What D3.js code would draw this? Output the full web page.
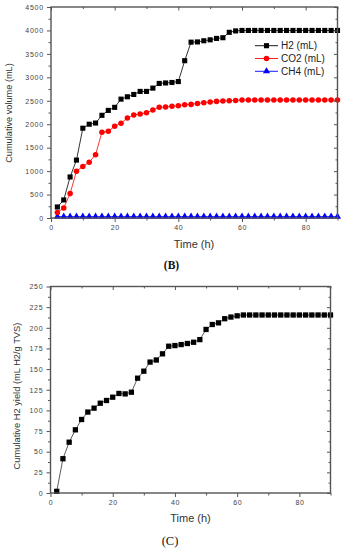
<!DOCTYPE html>
<html>
<head>
<meta charset="utf-8">
<script src="https://cdn.jsdelivr.net/npm/d3@7"></script>
<style>
  body { margin: 0; background: #fff; }
  svg text { font-family: "Liberation Sans", Arial, sans-serif; }
</style>
</head>
<body>
<div id="chart"></div>
<script>
// sampling times (h)
var times = [2,4,6,8,10,12,14,16,18,20,22,24,26,28,30,32,34,36,38,40,42,44,46,48,50,
             52,54,56,58,60,62,64,66,68,70,72,74,76,78,80,82,84,86,88,90];

// panel B: cumulative volume (mL)
var h2 = [235,385,875,1235,1915,2000,2025,2190,2295,2360,2535,2585,2635,2700,2700,2770,2870,2880,2890,2910,
          3355,3750,3755,3780,3800,3830,3845,3960,3990,4000,4000,4000,4000,4000,4000,4000,4000,4000,4000,4000,
          4000,4000,4000,4000,4000];
var co2 = [115,214,520,995,1100,1190,1350,1830,1850,1957,2020,2133,2197,2218,2246,2303,2360,2367,2381,2395,
           2416,2423,2444,2459,2473,2487,2494,2500,2508,2515,2515,2515,2515,2515,2515,2515,2515,2515,2515,2515,
           2515,2515,2515,2515,2515];
var ch4 = [30,30,30,30,30,30,30,30,30,30,30,30,30,30,30,30,30,30,30,30,30,30,30,30,30,
           30,30,30,30,30,30,30,30,30,30,30,30,30,30,30,30,30,30,30,30];

// panel C: cumulative H2 yield (mL H2/g TVS)
var yieldH2 = [2,41.5,61.5,76.5,89,98,102.7,108.7,112,116,120.5,120,122,139,147.5,158.5,161,168.5,177.7,178.5,
               179.7,181,182.5,185.7,198,204,206,211,213,214.5,215.5,215.5,215.5,215.5,215.5,215.5,215.5,215.5,
               215.5,215.5,215.5,215.5,215.5,215.5,215.5];

var xTicks = [0,20,40,60,80];
var xMinor = [10,30,50,70,90];
var volTicks = [0,500,1000,1500,2000,2500,3000,3500,4000,4500];
var yieldTicks = [0,25,50,75,100,125,150,175,200,225,250];

var series = [
  {name: "H2 (mL)", values: h2, color: "#000", symbol: d3.symbolSquare, size: 26},
  {name: "CO2 (mL)", values: co2, color: "#f00", symbol: d3.symbolCircle, size: 24},
  {name: "CH4 (mL)", values: ch4, color: "#00f", symbol: d3.symbolTriangle, size: 22}
];

var W = 343, H = 550;
var axisColor = "#555", labelColor = "#444";

var svg = d3.select("#chart").append("svg")
  .attr("width", W).attr("height", H);

function drawFrame(g, x, y, yMajor, yMinor, yFmt) {
  var x0 = x.range()[0], x1 = x.range()[1], y0 = y.range()[0], y1 = y.range()[1];

  // minor ticks first
  g.append("g").attr("transform", "translate(0," + y0 + ")")
    .call(d3.axisBottom(x).tickValues(xMinor).tickSize(2.5).tickFormat(""));
  g.append("g").attr("transform", "translate(" + x0 + ",0)")
    .call(d3.axisLeft(y).tickValues(yMinor).tickSize(2.5).tickFormat(""));
  g.append("g").attr("transform", "translate(0," + y1 + ")")
    .call(d3.axisBottom(x).tickValues(xMinor).tickSize(2).tickFormat(""));
  g.append("g").attr("transform", "translate(" + x1 + ",0)")
    .call(d3.axisLeft(y).tickValues(yMinor).tickSize(2).tickFormat(""));

  // major: bottom, left labelled, top/right mirrored inward
  var bx = g.append("g").attr("transform", "translate(0," + y0 + ")")
    .call(d3.axisBottom(x).tickValues(xTicks).tickSize(4).tickPadding(3));
  bx.selectAll("text").attr("font-size", 7).attr("letter-spacing", 0.6);

  var ly = g.append("g").attr("transform", "translate(" + x0 + ",0)")
    .call(d3.axisLeft(y).tickValues(yMajor).tickSize(4).tickPadding(3).tickFormat(yFmt));
  ly.selectAll("text").attr("font-size", 7).attr("letter-spacing", 0.8);

  g.append("g").attr("transform", "translate(0," + y1 + ")")
    .call(d3.axisBottom(x).tickValues(xTicks).tickSize(3.5).tickFormat(""));
  g.append("g").attr("transform", "translate(" + x1 + ",0)")
    .call(d3.axisLeft(y).tickValues(yMajor).tickSize(3.5).tickFormat(""));

  g.selectAll(".domain").remove();
  g.selectAll(".tick line").attr("stroke", axisColor).attr("stroke-width", 1);
  g.selectAll(".tick text").attr("fill", labelColor);

  g.append("rect")
    .attr("x", x0).attr("y", y1)
    .attr("width", x1 - x0).attr("height", y0 - y1)
    .attr("fill", "none").attr("stroke", axisColor).attr("stroke-width", 1.4);
}

// ---------- panel B ----------
var xB = d3.scaleLinear().domain([0, 90]).range([51, 337.5]);
var yB = d3.scaleLinear().domain([0, 4500]).range([218, 7]);
var gB = svg.append("g");

series.slice().reverse().forEach(function(s) {
  var pts = times.map(function(t, i) { return [t, s.values[i]]; });
  gB.append("path")
    .datum(pts)
    .attr("fill", "none")
    .attr("stroke", s.color)
    .attr("stroke-width", 0.8)
    .attr("d", d3.line().x(function(d){ return xB(d[0]); }).y(function(d){ return yB(d[1]); }));
  gB.selectAll(null).data(pts).enter().append("path")
    .attr("transform", function(d){ return "translate(" + xB(d[0]) + "," + yB(d[1]) + ")"; })
    .attr("d", d3.symbol().type(s.symbol).size(s.size))
    .attr("fill", s.color);
});

drawFrame(gB, xB, yB, volTicks, d3.range(250, 4500, 500), d3.format("d"));

// legend
var leg = gB.append("g");
series.forEach(function(s, i) {
  var cy = 45.7 + i * 12.8;
  leg.append("line").attr("x1", 255).attr("x2", 278).attr("y1", cy).attr("y2", cy)
    .attr("stroke", s.color).attr("stroke-width", 0.9);
  leg.append("path").attr("transform", "translate(266.5," + cy + ")")
    .attr("d", d3.symbol().type(s.symbol).size(s.size)).attr("fill", s.color);
  leg.append("text").attr("x", 281).attr("y", cy + 3.6)
    .attr("font-size", 10).attr("fill", "#222").text(s.name);
});

gB.append("text").attr("x", 194).attr("y", 248).attr("text-anchor", "middle")
  .attr("font-size", 11).attr("fill", "#333").text("Time (h)");
gB.append("text").attr("transform", "translate(12,113) rotate(-90)").attr("text-anchor", "middle")
  .attr("font-size", 9.2).attr("fill", "#333").text("Cumulative volume (mL)");
svg.append("text").attr("x", 171.5).attr("y", 269).attr("text-anchor", "middle")
  .style("font-family", "'Liberation Serif', 'Times New Roman', serif")
  .attr("font-size", 11.5).attr("font-weight", "bold").attr("fill", "#111").text("(B)");

// ---------- panel C ----------
var xC = d3.scaleLinear().domain([0, 90]).range([50.5, 330.5]);
var yC = d3.scaleLinear().domain([0, 250]).range([493, 286.5]);
var gC = svg.append("g");

var ptsC = times.map(function(t, i) { return [t, yieldH2[i]]; });
gC.append("path")
  .datum(ptsC)
  .attr("fill", "none").attr("stroke", "#333").attr("stroke-width", 0.8)
  .attr("d", d3.line().x(function(d){ return xC(d[0]); }).y(function(d){ return yC(d[1]); }));
gC.selectAll(null).data(ptsC).enter().append("path")
  .attr("transform", function(d){ return "translate(" + xC(d[0]) + "," + yC(d[1]) + ")"; })
  .attr("d", d3.symbol().type(d3.symbolSquare).size(28))
  .attr("fill", "#000");

drawFrame(gC, xC, yC, yieldTicks, d3.range(12.5, 250, 25), d3.format("d"));

gC.append("text").attr("x", 190.5).attr("y", 522).attr("text-anchor", "middle")
  .attr("font-size", 11).attr("fill", "#333").text("Time (h)");
gC.append("text").attr("transform", "translate(20,396) rotate(-90)").attr("text-anchor", "middle")
  .attr("font-size", 9.3).attr("fill", "#333").text("Cumulative H2 yield (mL H2/g TVS)");
svg.append("text").attr("x", 170).attr("y", 545).attr("text-anchor", "middle")
  .style("font-family", "'Liberation Serif', 'Times New Roman', serif")
  .attr("font-size", 12.5).attr("fill", "#111").text("(C)");
</script>
</body>
</html>
